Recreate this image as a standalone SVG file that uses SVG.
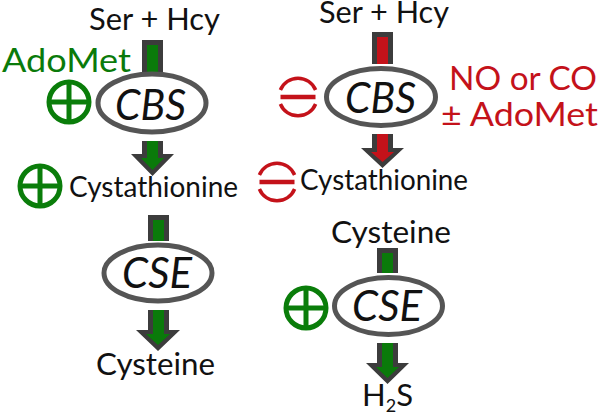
<svg xmlns="http://www.w3.org/2000/svg" width="600" height="418" viewBox="0 0 600 418">
<style>
text{font-family:"Lato","Open Sans","Liberation Sans",sans-serif;fill:#111}
.t{font-size:31px}
.k{font-size:33px}
.c{font-size:28px}
.e{font-size:43px;font-style:italic}
.g{fill:#0a7a0a}
.r{fill:#c4121a}
.el{fill:#fff;stroke:#555;stroke-width:5}
.o{fill:#3c3c3c}
.pl{fill:none;stroke:#0a7d0a;stroke-width:5}
.mi{fill:none;stroke:#c4121a;stroke-width:3.500}
.bar{fill:none;stroke:#c4121a;stroke-width:4.500}
</style>
<defs>
<g id="plus"><circle r="20" class="pl"/><path d="M-20 0H20M0-20V20" class="pl"/></g>
<g id="minus"><path d="M-17.600-7A19 19 0 0 1 17.600-7M-17.600 7A19 19 0 0 0 17.600 7" class="mi"/><path d="M-17.500 0H17.500" class="bar"/></g>
</defs>
<g id="connectors">
<rect x="142" y="40" width="21" height="32" class="o"/><rect x="147" y="45" width="11" height="27" fill="#0a7a0a"/>
<path d="M142 141H163V154H174L152.500 176L131 154H142Z" class="o"/><path d="M147 141H158V158H164L152.500 170L141 158H147Z" fill="#0a7a0a"/>
<rect x="148" y="215" width="21" height="26" class="o"/><rect x="153" y="220" width="11" height="21" fill="#0a7a0a"/>
<path d="M148 310H169V330H180L158 351L136 330H148Z" class="o"/><path d="M153 310H164V334H170L158 345L146 334H153Z" fill="#0a7a0a"/>
<rect x="372" y="32" width="21" height="32" class="o"/><rect x="377" y="37" width="11" height="27" fill="#c4121a"/>
<path d="M372 134H393V148H404L382.500 168L361 148H372Z" class="o"/><path d="M377 134H388V152H394L382.500 162L371 152H377Z" fill="#c4121a"/>
<rect x="377" y="248" width="21" height="25" class="o"/><rect x="382" y="253" width="11" height="20" fill="#0a7a0a"/>
<path d="M377 343H398V363H409L387.500 384L366 363H377Z" class="o"/><path d="M382 343H393V367H399L387.500 378L376 367H382Z" fill="#0a7a0a"/>
</g>
<g id="cbs-left"><ellipse cx="152" cy="103" rx="54" ry="29" class="el"/><text x="115" y="120" class="e" textLength="71" lengthAdjust="spacingAndGlyphs">CBS</text></g>
<g id="cse-left"><ellipse cx="158" cy="273" rx="54" ry="28" class="el"/><text x="122" y="288" class="e" textLength="70" lengthAdjust="spacingAndGlyphs">CSE</text></g>
<g id="cbs-right"><ellipse cx="381" cy="97" rx="54.500" ry="28.500" class="el"/><text x="345" y="113" class="e" textLength="71" lengthAdjust="spacingAndGlyphs">CBS</text></g>
<g id="cse-right"><ellipse cx="388.500" cy="306" rx="54" ry="28.500" class="el"/><text x="352" y="321" class="e" textLength="70" lengthAdjust="spacingAndGlyphs">CSE</text></g>
<g id="ser-left"><text x="89" y="30" class="t" textLength="131" lengthAdjust="spacingAndGlyphs">Ser + Hcy</text></g>
<g id="ser-right"><text x="319" y="23" class="t" textLength="130" lengthAdjust="spacingAndGlyphs">Ser + Hcy</text></g>
<g id="adomet-left"><text x="2" y="72" class="k g" textLength="129" lengthAdjust="spacingAndGlyphs">AdoMet</text></g>
<g id="no-co"><text x="449" y="90" class="k r" textLength="148" lengthAdjust="spacingAndGlyphs">NO or CO</text><text x="441" y="126" class="k r" textLength="157" lengthAdjust="spacingAndGlyphs">± AdoMet</text></g>
<g id="cysta-left"><text x="69" y="197" class="c" textLength="169" lengthAdjust="spacingAndGlyphs">Cystathionine</text></g>
<g id="cysta-right"><text x="300" y="190" class="c" textLength="168" lengthAdjust="spacingAndGlyphs">Cystathionine</text></g>
<g id="cys-left"><text x="96" y="375" class="t" textLength="119" lengthAdjust="spacingAndGlyphs">Cysteine</text></g>
<g id="cys-right"><text x="331" y="243" class="t" textLength="120" lengthAdjust="spacingAndGlyphs">Cysteine</text></g>
<g id="h2s"><text x="362" y="406" class="t">H<tspan font-size="18" dy="6">2</tspan><tspan dy="-6">S</tspan></text></g>
<g id="plus-1"><use href="#plus" x="69" y="102"/></g>
<g id="plus-2"><use href="#plus" x="40" y="186"/></g>
<g id="plus-3"><use href="#plus" x="306" y="308"/></g>
<g id="minus-1"><use href="#minus" x="298" y="97"/></g>
<g id="minus-2"><use href="#minus" x="277" y="182"/></g>
</svg>
